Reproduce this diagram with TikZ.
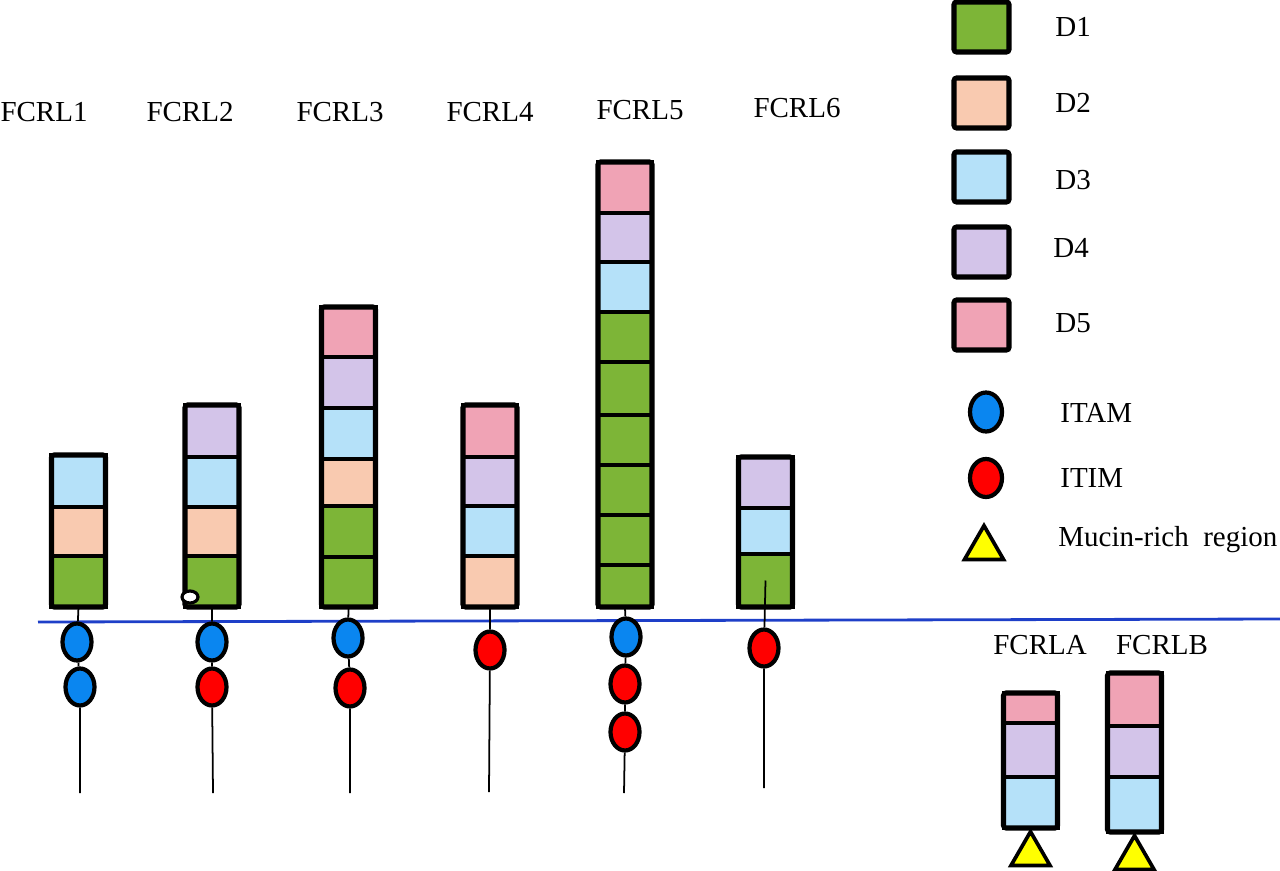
\documentclass[tikz,border=0pt]{standalone}
\usepackage{fontspec}
\setmainfont{Liberation Serif}
\usetikzlibrary{shapes.geometric,fit}
\definecolor{cDa}{HTML}{7DB537}
\definecolor{cDb}{HTML}{F9CAB0}
\definecolor{cDc}{HTML}{B5E1F9}
\definecolor{cDd}{HTML}{D3C4E9}
\definecolor{cDe}{HTML}{F0A3B5}
\definecolor{cItam}{HTML}{0A86F0}
\definecolor{cItim}{HTML}{FF0000}
\definecolor{cMem}{HTML}{1E3FC8}
\definecolor{cMuc}{HTML}{FFFF00}
\tikzset{
  seg/.style={draw=black, line width=2.3pt, minimum width=1.08cm, inner sep=0pt, outer sep=0pt},
  frame/.style={draw=black, line width=2.9pt, inner sep=0pt, rounded corners=1.5pt},
  legbox/.style={draw=black, line width=2.9pt, minimum width=1.1cm, minimum height=1.0cm, inner sep=0pt, rounded corners=1.5pt},
  motif/.style={ellipse, draw=black, line width=2.4pt, minimum width=0.58cm, minimum height=0.74cm, inner sep=0pt},
  itam/.style={motif, fill=cItam},
  itim/.style={motif, fill=cItim},
  mucin/.style={regular polygon, regular polygon sides=3, draw=black, line width=2.1pt, fill=cMuc, minimum size=0.9cm, inner sep=0pt, anchor=corner 1},
  stem/.style={draw=black, line width=1pt},
  lab/.style={font=\fontsize{16.5}{20}\selectfont, inner sep=0pt},
  leglab/.style={lab, anchor=west},
}
\newcommand\seg[5]{\node[seg, fill=#5, minimum height={(#4-#3)*0.02cm}] (#1) at (#2,{(#3+#4)/2}) {};}
\begin{document}
\begin{tikzpicture}[x=0.02cm, y=-0.02cm]
\useasboundingbox (0,0) rectangle (1280,871);

% membrane
\coordinate (m1) at (38,622);
\coordinate (m2) at (1280,619);
\draw[cMem, line width=1.6pt] (m1) -- (m2);

% labels
\node[lab] (l1) at (44,112) {FCRL1};
\node[lab] (l2) at (190,112) {FCRL2};
\node[lab] (l3) at (340,112) {FCRL3};
\node[lab] (l4) at (490,112) {FCRL4};
\node[lab] (l5) at (640,110) {FCRL5};
\node[lab] (l6) at (797,108) {FCRL6};
\node[lab] (la) at (1040,645) {FCRLA};
\node[lab] (lb) at (1162,645) {FCRLB};

% FCRL1
\seg{c1a}{78.5}{455}{507}{cDc}
\seg{c1b}{78.5}{507}{556}{cDb}
\seg{c1c}{78.5}{556}{607}{cDa}
\node[frame, fit=(c1a)(c1c)] (f1) {};
\node[itam] (i11) at (77,642) {};
\node[itam] (i12) at (80,687) {};
\coordinate (e1) at (80,793);
\draw[stem] (c1c.south) -- (i11) -- (i12) -- (e1);

% FCRL2
\seg{c2a}{212}{405}{457}{cDd}
\seg{c2b}{212}{457}{507}{cDc}
\seg{c2c}{212}{507}{556}{cDb}
\seg{c2d}{212}{556}{607}{cDa}
\node[frame, fit=(c2a)(c2d)] (f2) {};
\draw[black, line width=1.8pt, fill=white] (190,597) ellipse [x radius=0.16cm, y radius=0.12cm];
\node[itam] (i21) at (212,642) {};
\node[itim] (i22) at (212,687) {};
\coordinate (e2) at (213,793);
\draw[stem] (c2d.south) -- (i21) -- (i22) -- (e2);

% FCRL3
\seg{c3a}{348.5}{307}{357}{cDe}
\seg{c3b}{348.5}{357}{408}{cDd}
\seg{c3c}{348.5}{408}{459}{cDc}
\seg{c3d}{348.5}{459}{506}{cDb}
\seg{c3e}{348.5}{506}{557}{cDa}
\seg{c3f}{348.5}{557}{607}{cDa}
\node[frame, fit=(c3a)(c3f)] (f3) {};
\node[itam] (i31) at (348,638) {};
\node[itim] (i32) at (350,688) {};
\coordinate (e3) at (350,793);
\draw[stem] (c3f.south) -- (i31) -- (i32) -- (e3);

% FCRL4
\seg{c4a}{490}{405}{457}{cDe}
\seg{c4b}{490}{457}{506}{cDd}
\seg{c4c}{490}{506}{556}{cDc}
\seg{c4d}{490}{556}{607}{cDb}
\node[frame, fit=(c4a)(c4d)] (f4) {};
\node[itim] (i41) at (490,650) {};
\coordinate (e4) at (489,792);
\draw[stem] (c4d.south) -- (i41) -- (e4);

% FCRL5
\seg{c5a}{625}{162}{213}{cDe}
\seg{c5b}{625}{213}{262}{cDd}
\seg{c5c}{625}{262}{312}{cDc}
\seg{c5d}{625}{312}{362}{cDa}
\seg{c5e}{625}{362}{415}{cDa}
\seg{c5f}{625}{415}{465}{cDa}
\seg{c5g}{625}{465}{515}{cDa}
\seg{c5h}{625}{515}{565}{cDa}
\seg{c5i}{625}{565}{607}{cDa}
\node[frame, fit=(c5a)(c5i)] (f5) {};
\node[itam] (i51) at (626,637) {};
\node[itim] (i52) at (625,684) {};
\node[itim] (i53) at (625,732) {};
\coordinate (e5) at (624,793);
\draw[stem] (c5i.south) -- (i51) -- (i52) -- (i53) -- (e5);

% FCRL6
\seg{c6a}{765.5}{457}{508}{cDd}
\seg{c6b}{765.5}{508}{554}{cDc}
\seg{c6c}{765.5}{554}{607}{cDa}
\node[frame, fit=(c6a)(c6c)] (f6) {};
\node[itim] (i61) at (764,648) {};
\coordinate (e6) at (764,788);
\draw[stem] (c6c.center) -- (i61) -- (e6);
\draw[seg, fill=none] (c6c.north west) -- (c6c.north east);

% FCRLA
\seg{caa}{1030.5}{693}{723}{cDe}
\seg{cab}{1030.5}{723}{777}{cDd}
\seg{cac}{1030.5}{777}{828}{cDc}
\node[frame, fit=(caa)(cac)] (fa) {};
\node[mucin] (ta) at (cac.south) {};

% FCRLB
\seg{cba}{1134.5}{673}{726}{cDe}
\seg{cbb}{1134.5}{726}{777}{cDd}
\seg{cbc}{1134.5}{777}{832}{cDc}
\node[frame, fit=(cba)(cbc)] (fb) {};
\node[mucin] (tb) at (cbc.south) {};

% legend
\node[legbox, fill=cDa] (g1) at (981.5,27) {};
\node[legbox, fill=cDb] (g2) at (981.5,103) {};
\node[legbox, fill=cDc] (g3) at (981.5,177) {};
\node[legbox, fill=cDd] (g4) at (981.5,252) {};
\node[legbox, fill=cDe] (g5) at (981.5,325) {};
\node[leglab] (t1) at (1055,27) {D1};
\node[leglab] (t2) at (1055,103) {D2};
\node[leglab] (t3) at (1055,180) {D3};
\node[leglab] (t4) at (1053,248) {D4};
\node[leglab] (t5) at (1055,323) {D5};
\node[itam, minimum width=0.64cm, minimum height=0.78cm] (gi) at (986,412) {};
\node[itim, minimum width=0.64cm, minimum height=0.76cm] (gr) at (986,478) {};
\node[mucin] (gt) at (984,522) {};
\node[leglab] (ti) at (1060,413) {ITAM};
\node[leglab] (tr) at (1060,478) {ITIM};
\node[leglab] (tm) at (1058,540) {Mucin-rich\ \ region};
\end{tikzpicture}
\end{document}
